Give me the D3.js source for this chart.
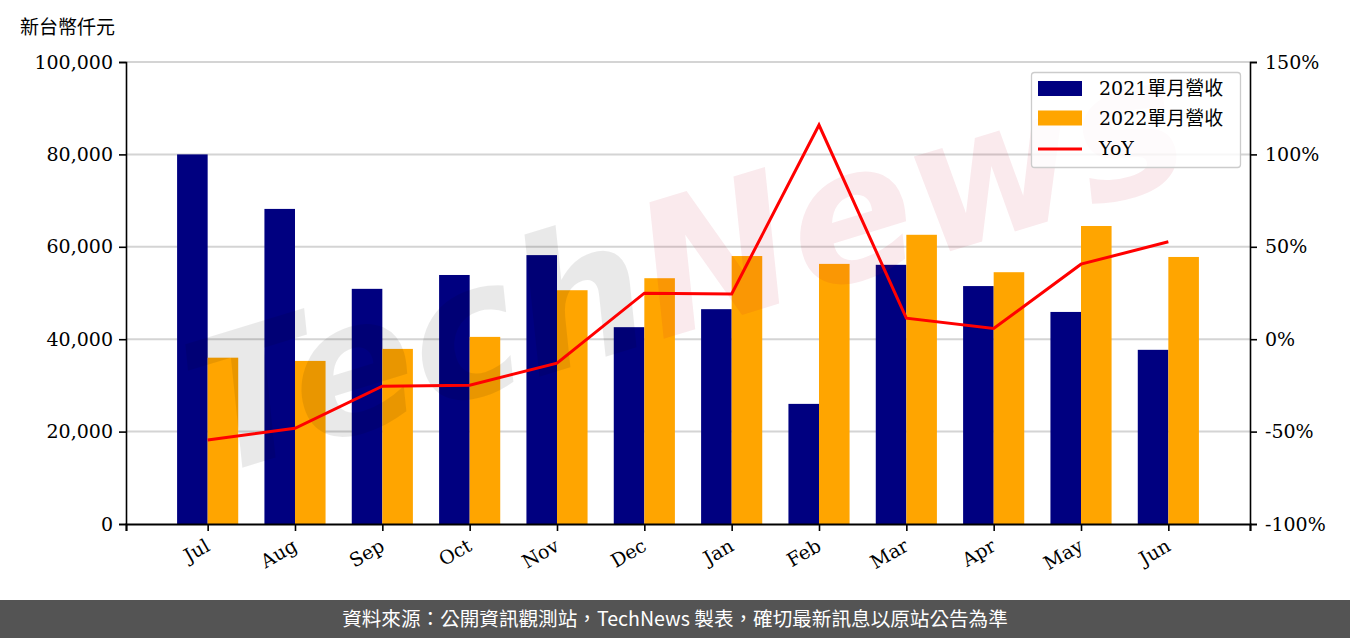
<!DOCTYPE html>
<html><head><meta charset="utf-8">
<script src="https://cdn.jsdelivr.net/npm/d3@7"></script>
<style>
html,body{margin:0;padding:0;background:#fff;}
svg{display:block;}
</style></head>
<body><svg id="c" width="1350" height="638"></svg>
<script>
const months = ["Jul","Aug","Sep","Oct","Nov","Dec","Jan","Feb","Mar","Apr","May","Jun"];
const rev2021 = [80000,68200,50900,53900,58200,42600,46500,26000,56100,51500,45900,37700];
const rev2022 = [36000,35300,37900,40500,50600,53200,58000,56300,62600,54500,64500,57800];
const yoy = [-54.5,-48.2,-25.4,-24.9,-13.0,24.9,24.5,115.9,11.4,5.8,40.6,52.7];
const leftTicks = [0,20000,40000,60000,80000,100000];
const rightTicks = [-100,-50,0,50,100,150];
const seriesNames = ["2021單月營收","2022單月營收","YoY"];
const yTitle = "新台幣仟元";
const footer = "資料來源：公開資訊觀測站，TechNews 製表，確切最新訊息以原站公告為準";

const svg = d3.select("#c");
const L=126,R=1250,T=62,B=524;
const serif = "'DejaVu Serif','Liberation Serif','Noto Sans CJK TC',serif";
const barW = 0.35;
const x = d3.scaleLinear().domain([-0.935, 11.935]).range([L,R]);
const y = d3.scaleLinear().domain([0,100000]).range([B,T]);
const y2 = d3.scaleLinear().domain([-100,150]).range([B,T]);

// grid
svg.append("g").selectAll("line").data(leftTicks.slice(1)).join("line")
  .attr("x1",L).attr("x2",R).attr("y1",d=>y(d)).attr("y2",d=>y(d))
  .attr("stroke","#d4d4d4").attr("stroke-width",2);

// bars
svg.append("g").selectAll("rect").data(rev2021).join("rect")
  .attr("x",(d,i)=>x(i-barW)).attr("width",(d,i)=>x(i)-x(i-barW))
  .attr("y",d=>y(d)).attr("height",d=>B-y(d)).attr("fill","#000080");
svg.append("g").selectAll("rect").data(rev2022).join("rect")
  .attr("x",(d,i)=>x(i)).attr("width",(d,i)=>x(i+barW)-x(i))
  .attr("y",d=>y(d)).attr("height",d=>B-y(d)).attr("fill","#ffa500");

// watermark
const wm = svg.append("g").attr("transform","translate(660,340) rotate(-17)");
wm.append("text").attr("x",0).attr("y",0).attr("text-anchor","end")
  .attr("font-family","'DejaVu Sans',sans-serif").attr("font-weight","bold").attr("font-style","italic")
  .attr("font-size",185).attr("fill","#000").attr("fill-opacity",0.085).text("Tech");
wm.append("text").attr("x",0).attr("y",0).attr("text-anchor","start")
  .attr("font-family","'DejaVu Sans',sans-serif").attr("font-weight","bold").attr("font-style","italic")
  .attr("font-size",185).attr("fill","#c8102e").attr("fill-opacity",0.085).text("News");

// yoy line
svg.append("path").datum(yoy)
  .attr("d", d3.line().x((d,i)=>x(i)).y(d=>y2(d)))
  .attr("fill","none").attr("stroke","#ff0000").attr("stroke-width",3).attr("stroke-linejoin","miter");

// axes
const axL = svg.append("g").attr("transform",`translate(${L},0)`)
  .call(d3.axisLeft(y).tickValues(leftTicks).tickFormat(d3.format(",")).tickSizeOuter(0).tickSize(7).tickPadding(6));
const axR = svg.append("g").attr("transform",`translate(${R},0)`)
  .call(d3.axisRight(y2).tickValues(rightTicks).tickFormat(d=>d+"%").tickSizeOuter(0).tickSize(7).tickPadding(8));
const axB = svg.append("g").attr("transform",`translate(0,${B})`)
  .call(d3.axisBottom(x).tickValues(d3.range(12)).tickFormat(i=>months[i]).tickSizeOuter(0).tickSize(7));
[axL,axR,axB].forEach(a=>{
  a.selectAll(".domain").attr("stroke","#000").attr("stroke-width",1.6);
  a.selectAll(".tick line").attr("stroke","#000").attr("stroke-width",1.6);
  a.selectAll("text").attr("font-family",serif).attr("font-size",19).attr("fill","#000");
});
axB.select(".domain").attr("stroke-width",2.2);
axB.selectAll(".tick text").attr("text-anchor","end").attr("dy",0)
  .attr("transform","translate(-2,17) rotate(-30)");

// y title
svg.append("text").attr("x",20).attr("y",34).attr("font-family",serif).attr("font-size",19)
  .attr("fill","#000").text(yTitle);

// legend
const lg = svg.append("g").attr("transform","translate(1031,72)");
lg.append("rect").attr("x",0.5).attr("y",0.5).attr("width",209).attr("height",95).attr("rx",3)
  .attr("fill","#fff").attr("fill-opacity",0.8).attr("stroke","#cccccc").attr("stroke-width",1.3);
const colors = ["#000080","#ffa500"];
[0,1].forEach(k=>{
  lg.append("rect").attr("x",7).attr("y",9+k*29.5).attr("width",44).attr("height",15).attr("fill",colors[k]);
});
lg.append("line").attr("x1",7).attr("x2",51).attr("y1",77).attr("y2",77).attr("stroke","#ff0000").attr("stroke-width",3);
seriesNames.forEach((s,k)=>{
  lg.append("text").attr("x",68).attr("y",23+k*30).attr("font-family",serif).attr("font-size",19)
    .attr("fill","#000").text(s);
});

// footer
svg.append("rect").attr("x",0).attr("y",600).attr("width",1350).attr("height",38).attr("fill","#545454");
svg.append("text").attr("x",675).attr("y",626).attr("text-anchor","middle")
  .attr("font-family","'Noto Sans CJK TC','Noto Sans',sans-serif").attr("font-size",19.6)
  .attr("fill","#fff").text(footer);
</script></body></html>
